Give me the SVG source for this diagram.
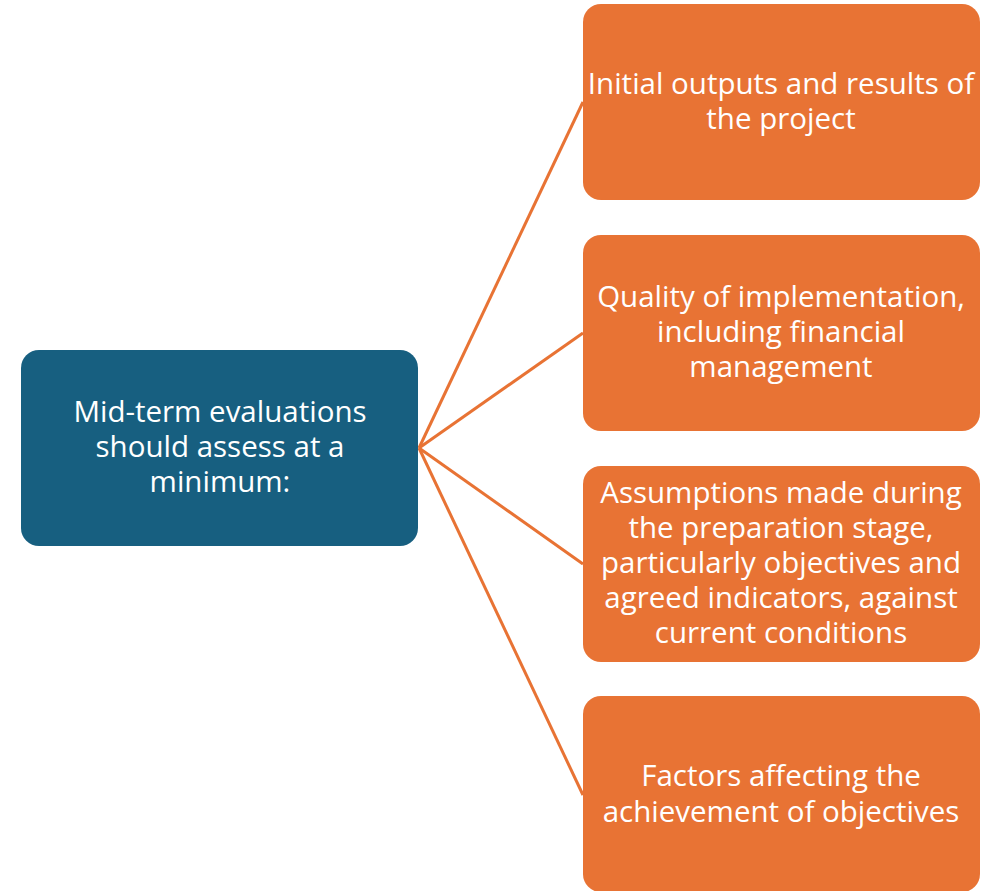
<svg xmlns="http://www.w3.org/2000/svg" width="999" height="891" viewBox="0 0 999 891">
  <style>
    .root { fill: #175F80; }
    .item { fill: #E87334; }
    .link { stroke: #E87334; stroke-width: 3; fill: none; }
    text { fill: #FFFFFF; font-family: "Open Sans", "Noto Sans", sans-serif; font-size: 29.5px; text-anchor: middle; }
  </style>
  <rect width="999" height="891" fill="#FFFFFF"/>
  <g id="connectors">
    <line class="link" x1="419" y1="448" x2="583" y2="102"/>
    <line class="link" x1="419" y1="448" x2="583" y2="333"/>
    <line class="link" x1="419" y1="448" x2="583" y2="564"/>
    <line class="link" x1="419" y1="448" x2="583" y2="795"/>
  </g>
  <g id="root">
    <rect class="root" x="21" y="350" width="397" height="196" rx="18"/>
    <text x="220" y="422">Mid-term evaluations</text>
    <text x="220" y="457">should assess at a</text>
    <text x="220" y="492">minimum:</text>
  </g>
  <g id="outputs">
    <rect class="item" x="583" y="4" width="397" height="196" rx="18"/>
    <text x="781" y="94">Initial outputs and results of</text>
    <text x="781" y="129">the project</text>
  </g>
  <g id="implementation">
    <rect class="item" x="583" y="235" width="397" height="196" rx="18"/>
    <text x="781" y="307">Quality of implementation,</text>
    <text x="781" y="342">including financial</text>
    <text x="781" y="377">management</text>
  </g>
  <g id="assumptions">
    <rect class="item" x="583" y="466" width="397" height="196" rx="18"/>
    <text x="781" y="503">Assumptions made during</text>
    <text x="781" y="538">the preparation stage,</text>
    <text x="781" y="573">particularly objectives and</text>
    <text x="781" y="608">agreed indicators, against</text>
    <text x="781" y="643">current conditions</text>
  </g>
  <g id="factors">
    <rect class="item" x="583" y="696" width="397" height="196" rx="18"/>
    <text x="781" y="786">Factors affecting the</text>
    <text x="781" y="822">achievement of objectives</text>
  </g>
</svg>
